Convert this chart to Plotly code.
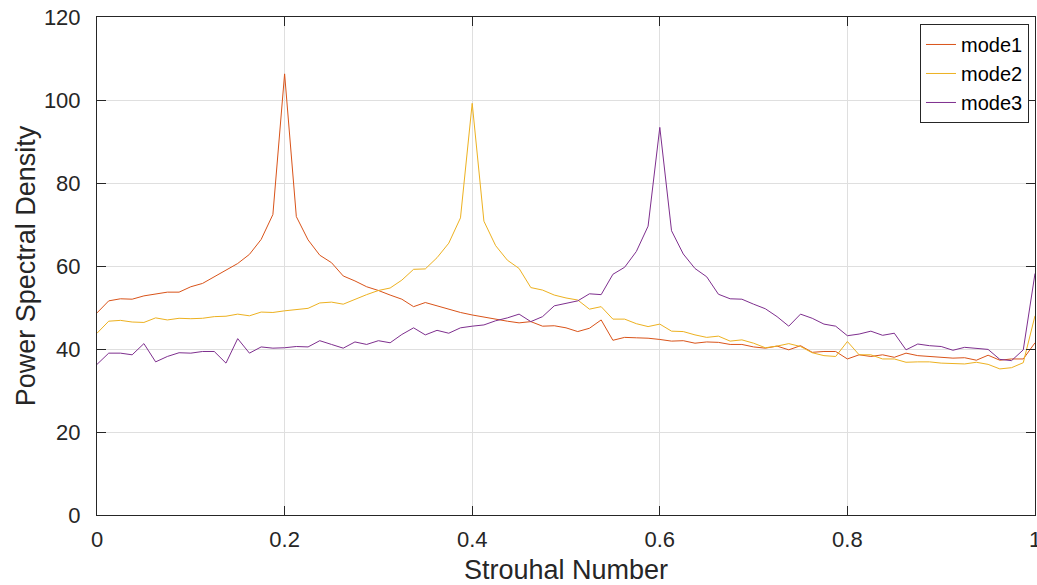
import numpy as np
import plotly.graph_objects as go

# Strouhal number samples (81 points from 0 to 1)
strouhal = [i / 80 for i in range(81)]

mode1 = [48.7, 51.6, 52.1, 52.0, 52.8, 53.2, 53.7, 53.7, 55.0, 55.8,
         57.4, 59.0, 60.6, 62.8, 66.4, 72.4, 106.3, 71.9, 66.3, 62.6,
         60.8, 57.6, 56.4, 55.0, 54.1, 53.0, 52.0, 50.2, 51.2, 50.4,
         49.6, 48.8, 48.2, 47.7, 47.1, 46.7, 46.3, 46.6, 45.5, 45.6,
         45.1, 44.2, 45.0, 47.0, 42.1, 42.8, 42.7, 42.6, 42.3, 41.9,
         42.0, 41.4, 41.7, 41.6, 41.1, 41.1, 40.5, 40.2, 40.7, 39.8,
         40.8, 39.2, 39.4, 39.4, 37.6, 38.6, 38.2, 38.6, 38.0, 39.0,
         38.4, 38.2, 37.9, 37.8, 37.9, 37.3, 38.5, 37.3, 37.6, 37.6,
         41.5]

mode2 = [43.8, 46.7, 46.9, 46.5, 46.4, 47.5, 47.0, 47.4, 47.3, 47.4,
         47.8, 47.9, 48.4, 48.0, 48.9, 48.8, 49.2, 49.5, 49.8, 51.1,
         51.3, 50.8, 52.0, 53.1, 54.1, 54.7, 56.6, 59.2, 59.3, 62.0,
         65.5, 71.6, 99.2, 70.8, 64.9, 61.4, 59.4, 54.8, 54.2, 53.0,
         52.3, 51.8, 49.6, 50.2, 47.2, 47.2, 46.1, 45.4, 46.0, 44.3,
         44.2, 43.4, 42.8, 43.1, 41.9, 42.2, 41.4, 40.3, 40.7, 41.3,
         40.6, 39.1, 38.4, 38.2, 41.8, 38.6, 38.6, 37.6, 37.6, 36.8,
         36.9, 36.9, 36.6, 36.5, 36.4, 36.8, 36.3, 35.2, 35.5, 36.7,
         48.0]

mode3 = [36.3, 39.0, 39.0, 38.6, 41.3, 36.9, 38.2, 39.1, 39.0, 39.4,
         39.4, 36.6, 42.5, 39.0, 40.5, 40.2, 40.3, 40.6, 40.5, 42.0,
         41.1, 40.2, 41.7, 41.1, 42.0, 41.5, 43.5, 45.1, 43.4, 44.5,
         43.8, 45.1, 45.5, 45.8, 46.8, 47.5, 48.4, 46.6, 47.8, 50.4,
         51.0, 51.6, 53.3, 53.1, 58.0, 59.7, 63.5, 69.6, 93.4, 68.5,
         62.9, 59.4, 57.4, 53.2, 52.1, 52.0, 50.8, 49.7, 47.8, 45.5,
         48.4, 47.4, 46.0, 45.5, 43.2, 43.6, 44.3, 43.3, 43.8, 39.8,
         41.2, 40.8, 40.6, 39.7, 40.4, 40.2, 39.9, 37.5, 37.2, 39.8,
         58.2]

series_names = ["mode1", "mode2", "mode3"]
series_colors = ["#D95319", "#EDB120", "#7E2F8E"]

x_ticks = [0, 0.2, 0.4, 0.6, 0.8, 1]
x_tick_labels = ["0", "0.2", "0.4", "0.6", "0.8", "1"]
y_ticks = [0, 20, 40, 60, 80, 100, 120]

FONT = "Liberation Sans, Arial, Helvetica, sans-serif"
AXC = "#262626"

fig = go.Figure()
for name, vals, col in zip(series_names, [mode1, mode2, mode3], series_colors):
    fig.add_trace(go.Scatter(x=strouhal, y=vals, mode="lines", name=name,
                             line=dict(color=col, width=1)))

axis_common = dict(
    showline=True, linecolor=AXC, linewidth=1, mirror="ticks",
    ticks="inside", ticklen=9, tickcolor=AXC, tickwidth=1,
    showgrid=True, gridcolor="#dfdfdf", gridwidth=1, zeroline=False,
    tickfont=dict(family=FONT, size=22, color=AXC),
    ticklabeloverflow="allow", automargin=False,
)

fig.update_layout(
    width=1037, height=585,
    margin=dict(l=97, r=2, t=17, b=70),
    paper_bgcolor="white", plot_bgcolor="white",
    font=dict(family=FONT, color=AXC),
    xaxis=dict(range=[0, 1], tickvals=x_ticks, ticktext=x_tick_labels,
               title=dict(text="Strouhal Number", font=dict(family=FONT, size=27, color=AXC), standoff=8),
               ticklabelstandoff=5, **axis_common),
    yaxis=dict(range=[0, 120], tickvals=y_ticks,
               title=dict(text="Power Spectral Density", font=dict(family=FONT, size=27, color=AXC), standoff=0),
               ticklabelstandoff=11, **axis_common),
    legend=dict(x=0.9936, y=0.986, xanchor="right", yanchor="top",
                bgcolor="white", bordercolor=AXC, borderwidth=1,
                font=dict(family=FONT, size=20, color="black"),
                itemwidth=30, tracegroupgap=0),
    showlegend=True,
)

fig.write_html(
    "out.html",
    config={"displayModeBar": False},
    post_script="document.body.style.margin='0';document.body.style.overflow='hidden';",
)
